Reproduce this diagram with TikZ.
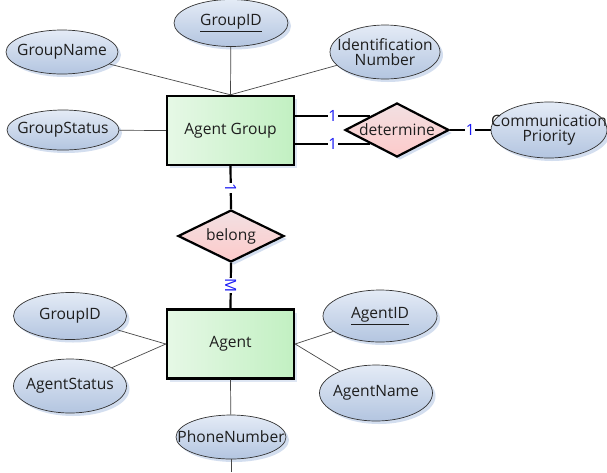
\documentclass[tikz,border=0pt]{standalone}
\usepackage{fontspec}
\setmainfont{Open Sans}
\usetikzlibrary{shapes.geometric,shadows}
\definecolor{elltop}{HTML}{E4EBF6}
\definecolor{ellbot}{HTML}{B3C5E0}
\definecolor{ellline}{HTML}{333333}
\definecolor{shd}{HTML}{C9D6EC}
\definecolor{enttop}{HTML}{E6F8E6}
\definecolor{entbot}{HTML}{C2F0C2}
\definecolor{reltop}{HTML}{F2E0E2}
\definecolor{relbot}{HTML}{FDCACA}
\definecolor{card}{HTML}{1A1AF5}
\definecolor{txt}{HTML}{1E1E1E}
\tikzset{
  attr/.style={ellipse, draw=ellline, line width=0.7pt, top color=elltop, bottom color=ellbot,
    inner sep=0pt,
    drop shadow={fill=shd, opacity=0.8, shadow xshift=3pt, shadow yshift=-3pt}},
  attrtext/.style={inner sep=0pt, text=txt, align=center, font=\fontsize{15.6}{16.5}\selectfont},
  entity/.style={rectangle, draw=black, line width=2.4pt, left color=enttop, right color=entbot,
    minimum width=127pt, minimum height=69pt, inner sep=0pt, text=txt,
    font=\fontsize{15.6}{16.5}\selectfont,
    drop shadow={fill=shd, opacity=0.6, shadow xshift=3pt, shadow yshift=-3pt}},
  relation/.style={diamond, draw=black, line width=2.2pt, top color=reltop, bottom color=relbot,
    inner sep=0pt, aspect=2, text=txt, font=\fontsize{15.6}{16.5}\selectfont,
    drop shadow={fill=shd, opacity=0.8, shadow xshift=3pt, shadow yshift=-3pt}},
  thin/.style={draw=ellline!90, line width=0.7pt},
  strong/.style={draw=black, line width=2.2pt},
  cardlbl/.style={fill=white, text=card, inner sep=0.6pt, font=\fontsize{15.5}{16}\selectfont}
}
\begin{document}
\begin{tikzpicture}[x=1pt,y=-1pt]
\useasboundingbox (0,0) rectangle (607,472);
\fill[white] (0,0) rectangle (607,472);
% entities
\node[entity] (ag) at (230.5,130.5) {Agent Group};
\node[entity] (agent) at (230.5,344) {Agent};
% relations
\node[relation, minimum width=104pt, minimum height=54pt] (det) at (397,130) {determine};
\node[relation, minimum width=106pt, minimum height=52pt] (bel) at (231,236) {belong};
% attributes (shapes)
\node[attr, minimum width=112pt, minimum height=44pt] (gname) at (62,52) {};
\node[attr, minimum width=114pt, minimum height=47pt] (gid) at (231,23) {};
\node[attr, minimum width=110pt, minimum height=54pt] (idn) at (385,52) {};
\node[attr, minimum width=112pt, minimum height=40pt] (gstat) at (63,130) {};
\node[attr, minimum width=116pt, minimum height=56pt] (comm) at (549,130) {};
\node[attr, minimum width=113pt, minimum height=47pt] (gid2) at (70,316) {};
\node[attr, minimum width=113pt, minimum height=54pt] (astat) at (70,386) {};
\node[attr, minimum width=110pt, minimum height=44pt] (phone) at (231,437) {};
\node[attr, minimum width=114pt, minimum height=52pt] (aid) at (380,316) {};
\node[attr, minimum width=113pt, minimum height=56pt] (aname) at (376,393) {};
% attribute texts
\node[attrtext] (gname-t) at (gname) {GroupName};
\node[attrtext] (gid-t) at (gid) {\underline{GroupID}};
\node[attrtext] (idn-t) at (idn) {Identification\\[-2pt]Number};
\node[attrtext] (gstat-t) at (gstat) {GroupStatus};
\node[attrtext] (comm-t) at (comm) {Communication\\[-2pt]Priority};
\node[attrtext] (gid2-t) at (gid2) {GroupID};
\node[attrtext] (astat-t) at (astat) {AgentStatus};
\node[attrtext] (phone-t) at (phone) {PhoneNumber};
\node[attrtext] (aid-t) at (aid) {\underline{AgentID}};
\node[attrtext] (aname-t) at (aname) {AgentName};
\coordinate (pbot) at (231,472);
% attribute connectors
\draw[thin] (gname) -- (ag.north);
\draw[thin] (gid) -- (ag.north);
\draw[thin] (idn) -- (ag.north);
\draw[thin] (gstat) -- (ag.west);
\draw[thin] (gid2) -- (agent.west);
\draw[thin] (astat) -- (agent.west);
\draw[thin] (aid) -- (agent.east);
\draw[thin] (aname) -- (agent.east);
\draw[thin] (agent.south) -- (phone);
\draw[thin] (phone) -- (pbot);
% relationship connectors
\draw[strong] (ag.east |- det.north west) -- node[cardlbl] {1} (det.north west);
\draw[strong] (ag.east |- det.south west) -- node[cardlbl] {1} (det.south west);
\draw[strong] (det.east) -- node[cardlbl] {1} (comm);
\draw[strong] (ag.south) -- node[cardlbl, rotate=-90] {1} (bel.north);
\draw[strong] (bel.south) -- node[cardlbl, rotate=-90] {M} (agent.north);
\end{tikzpicture}
\end{document}
